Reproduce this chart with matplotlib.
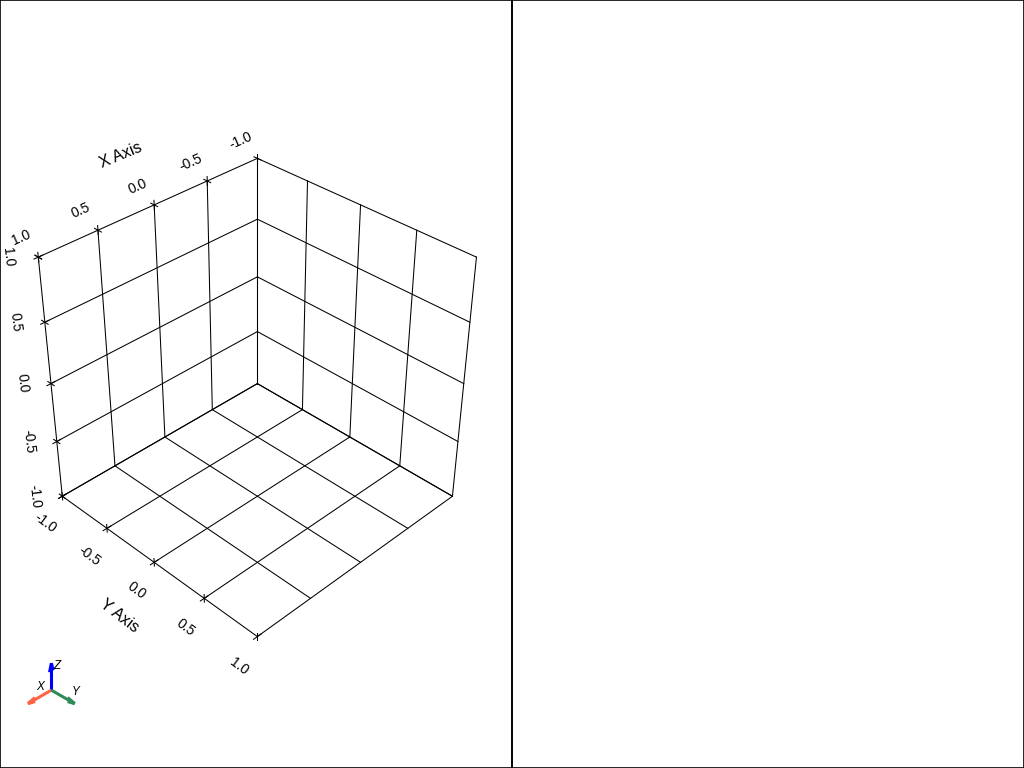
"""Recreate a two-viewport 3D bounds grid (left) with an empty right viewport."""

import matplotlib

matplotlib.use("Agg")
import matplotlib.pyplot as plt  # noqa:E402  # isort:skip
import numpy as np  # noqa:E402
from mpl_toolkits.mplot3d import proj3d  # noqa:E402

OUTPUT_FIG = "out.png"

# axis data
x_ticks = [-1.0, -0.5, 0.0, 0.5, 1.0]
y_ticks = [-1.0, -0.5, 0.0, 0.5, 1.0]
z_ticks = [-1.0, -0.5, 0.0, 0.5, 1.0]
tick_labels = ["-1.0", "-0.5", "0.0", "0.5", "1.0"]
axis_titles = ["X Axis", "Y Axis"]

# orientation widget
widget_names = ["X", "Y", "Z"]
widget_colors = ["tomato", "seagreen", "blue"]

ELEV, AZIM = 35.264, 45.0
LINE = dict(color="black", lw=0.75, clip_on=False)
FAMILY = ["Liberation Sans", "DejaVu Sans"]

plt.rcParams["font.family"] = FAMILY
fig = plt.figure(figsize=(10.24, 7.68), dpi=100)


def label3d(axis, pos, text, direction, size):
    """Put a 2D text at the projection of pos, turned along direction."""
    M = axis.get_proj()
    x0, y0, _ = proj3d.proj_transform(*pos, M)
    end = [p + 0.1 * d for p, d in zip(pos, direction)]
    x1, y1, _ = proj3d.proj_transform(*end, M)
    angle = np.degrees(np.arctan2(y1 - y0, x1 - x0))
    angle = (angle + 180) % 180
    if angle > 90:
        angle -= 180
    return axis.text2D(x0, y0, text, transform=axis.transData,
                       rotation=angle, size=size, ha="center", va="center",
                       family=FAMILY)


# main 3d view, made bigger than the viewport so nothing is clipped
ax = fig.add_axes([-0.1338, -0.013, 0.75, 1.0], projection="3d")
ax.set_proj_type("persp", focal_length=0.35)
ax.view_init(elev=ELEV, azim=AZIM)
ax.set_box_aspect((1, 1, 1), zoom=0.639)
ax.set_axis_off()
ax.patch.set_visible(False)

xlo, xhi = min(x_ticks), max(x_ticks)
ylo, yhi = min(y_ticks), max(y_ticks)
zlo, zhi = min(z_ticks), max(z_ticks)
ax.set_xlim(xlo, xhi)
ax.set_ylim(ylo, yhi)
ax.set_zlim(zlo, zhi)

# grid on the three back walls (y=min, x=min, z=min)
for v in x_ticks:
    ax.plot([v, v], [ylo, ylo], [zlo, zhi], **LINE)
    ax.plot([v, v], [ylo, yhi], [zlo, zlo], **LINE)
for v in y_ticks:
    ax.plot([xlo, xlo], [v, v], [zlo, zhi], **LINE)
    ax.plot([xlo, xhi], [v, v], [zlo, zlo], **LINE)
for v in z_ticks:
    ax.plot([xlo, xhi], [ylo, ylo], [v, v], **LINE)
    ax.plot([xlo, xlo], [ylo, yhi], [v, v], **LINE)

# tick crosses and labels
t = 0.035
for v, s in zip(x_ticks, tick_labels):
    ax.plot([v, v], [ylo - t, ylo + t], [zhi, zhi], **LINE)
    ax.plot([v, v], [ylo, ylo], [zhi - t, zhi + t], **LINE)
    label3d(ax, (v, ylo - 0.17, zhi + 0.08), s, (-1, 0, 0), 10)
for v, s in zip(z_ticks, tick_labels):
    ax.plot([xhi - t, xhi + t], [ylo, ylo], [v, v], **LINE)
    ax.plot([xhi, xhi], [ylo - t, ylo + t], [v, v], **LINE)
    label3d(ax, (xhi + 0.14, ylo - 0.14, v), s, (0, 0, 1), 10)
for v, s in zip(y_ticks, tick_labels):
    ax.plot([xhi - t, xhi + t], [v, v], [zlo, zlo], **LINE)
    ax.plot([xhi, xhi], [v, v], [zlo - t, zlo + t], **LINE)
    label3d(ax, (xhi + 0.17, v, zlo - 0.15), s, (0, 1, 0), 10)

label3d(ax, (0.02, ylo - 0.3, zhi + 0.28), axis_titles[0], (-1, 0, 0), 11.5)
label3d(ax, (xhi + 0.3, -0.04, zlo - 0.33), axis_titles[1], (0, 1, 0), 11.5)

# orientation widget in the lower left corner
wax = fig.add_axes([0.0, 0.0345, 100 / 1024, 100 / 768], projection="3d")
wax.set_proj_type("persp", focal_length=0.6)
wax.view_init(elev=ELEV, azim=AZIM)
wax.set_box_aspect((1, 1, 1), zoom=1.05)
wax.set_axis_off()
wax.patch.set_visible(False)
wax.set_xlim(-1, 1)
wax.set_ylim(-1, 1)
wax.set_zlim(-1, 1)
for i, col in enumerate(widget_colors):
    d = [0.0, 0.0, 0.0]
    d[i] = 1.0
    wax.quiver(0, 0, 0, *d, color=col, lw=2.2, arrow_length_ratio=0.3)
label_pos = [(0.5, 0.0, 0.35), (0.0, 1.0, 0.45), (0.0, 0.25, 1.0)]
for name, p in zip(widget_names, label_pos):
    txt = label3d(wax, p, name, (0, 1, 0), 8.5)
    txt.set_rotation(0)
    txt.set_style("italic")

# viewport borders drawn on top
for rect in ([0.0, 0.0, 0.5, 1.0], [0.5, 0.0, 0.5, 1.0]):
    bax = fig.add_axes(rect)
    bax.patch.set_visible(False)
    bax.set_xticks([])
    bax.set_yticks([])
    for sp in bax.spines.values():
        sp.set_linewidth(1.2)
        sp.set_color("black")

fig.savefig(OUTPUT_FIG, dpi=100)
